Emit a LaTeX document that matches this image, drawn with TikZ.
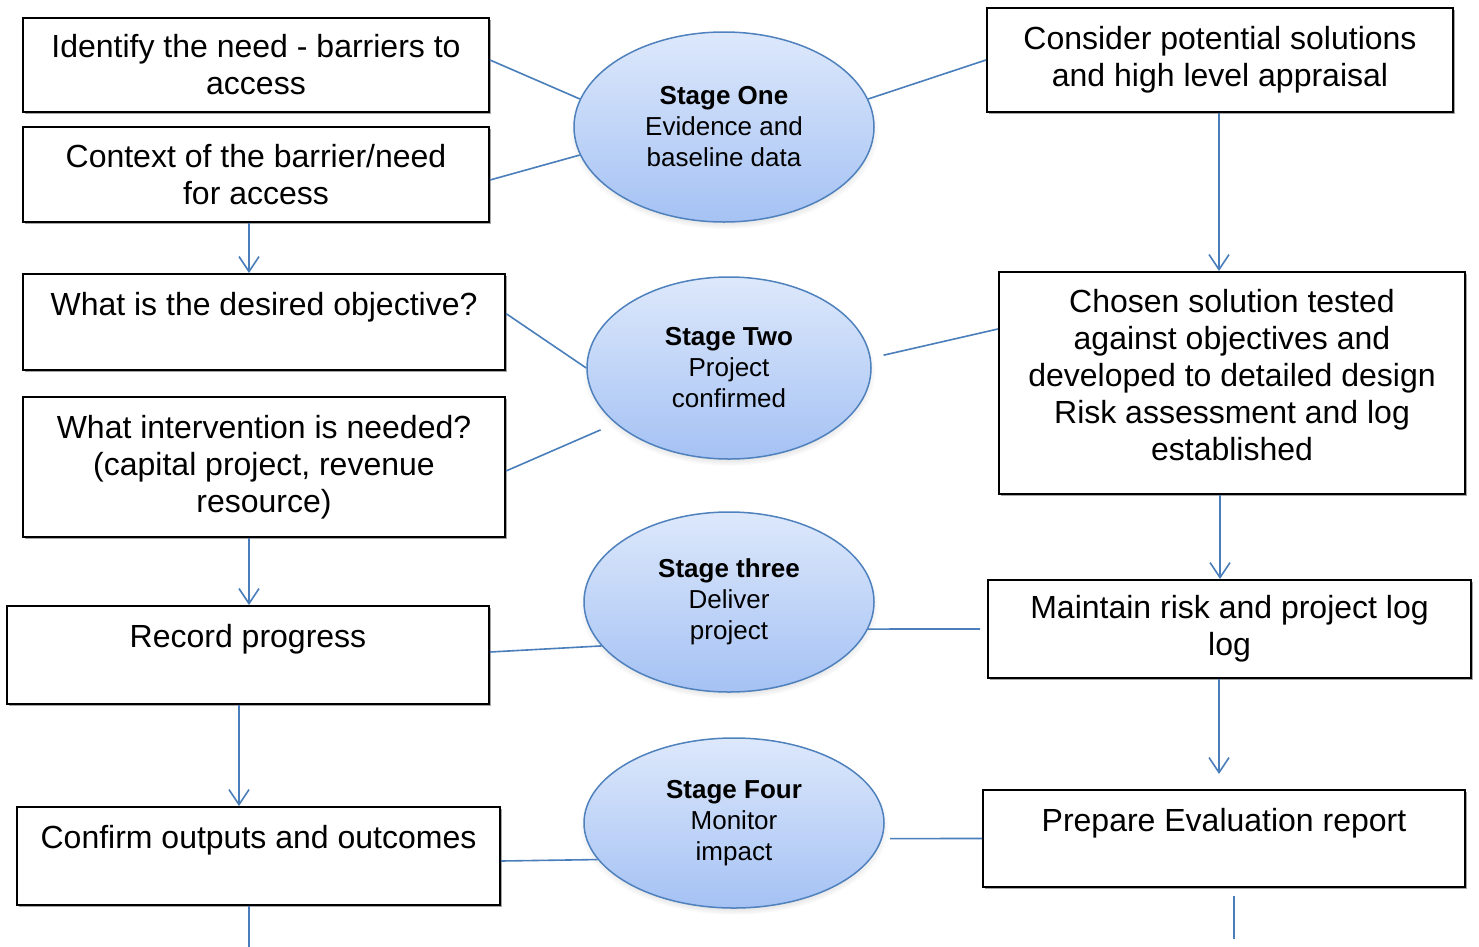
\documentclass[tikz,border=0pt]{standalone}
\usepackage{fontspec}
\setmainfont{Liberation Sans}
\usepackage{tikz}
\usetikzlibrary{shapes.geometric}
\usetikzlibrary{shadows}
\usetikzlibrary{arrows.meta}

\definecolor{linkblue}{HTML}{4A7EBB}
\definecolor{rimblue}{HTML}{4F81BD}
\definecolor{toplight}{HTML}{DDE8FB}
\definecolor{bottomblue}{HTML}{A5C2F4}

\begin{document}
\begin{tikzpicture}[x=1pt,y=-1pt,
  box/.style={draw=black,line width=2pt,fill=white,align=center,inner sep=0pt,
    font=\fontsize{32}{37}\selectfont,
    drop shadow={shadow xshift=1.5pt,shadow yshift=-1.5pt,fill=gray!70,opacity=1}},
  toptext/.style={text height=41pt,text depth=#1},
  stage/.style={ellipse,draw=rimblue,line width=1.5pt,top color=toplight,bottom color=bottomblue,
    align=center,inner sep=0pt,font=\fontsize{26}{31}\selectfont,
    circular drop shadow={shadow xshift=0pt,shadow yshift=-4pt,shadow scale=1.03,opacity=0.4}},
  link/.style={draw=linkblue,line width=1.6pt},
  flow/.style={link,-{Straight Barb[length=15pt,width=20pt]}}]

\useasboundingbox (0,0) rectangle (1479,946);

% left column
\node[box,minimum width=466pt,minimum height=94pt] (need) at (256,65) {Identify the need - barriers to\\access};
\node[box,minimum width=466pt,minimum height=95pt] (ctx) at (256,174.5) {Context of the barrier/need\\for access};
\node[box,minimum width=482pt,toptext=55pt] (goal) at (264,322) {What is the desired objective?};
\node[box,minimum width=482pt,minimum height=140pt] (act) at (264,467) {What intervention is needed?\\(capital project, revenue\\resource)};
\node[box,minimum width=482pt,toptext=57pt] (rec) at (248,655) {Record progress};
\node[box,minimum width=483pt,toptext=57pt] (out) at (258.5,856) {Confirm outputs and outcomes};

% right column
\node[box,minimum width=466pt,minimum height=104pt] (opt) at (1220,60) {Consider potential solutions\\and high level appraisal};
\node[box,minimum width=466pt,text height=188pt,text depth=34pt] (sol) at (1232,383) {Chosen solution tested\\against objectives and\\developed to detailed design\\Risk assessment and log\\established};
\node[box,minimum width=483pt,minimum height=98pt] (risk) at (1229.5,629) {Maintain risk and project log\\log};
\node[box,minimum width=482pt,toptext=56pt] (rep) at (1224,838.5) {Prepare Evaluation report};

% stages
\node[stage,minimum width=300pt,minimum height=190pt] (s1) at (724,127) {\textbf{Stage One}\\Evidence and\\baseline data};
\node[stage,minimum width=284pt,minimum height=182pt] (s2) at (729,368) {\textbf{Stage Two}\\Project\\confirmed};
\node[stage,minimum width=290pt,minimum height=180pt] (s3) at (729,602) {\textbf{Stage three}\\Deliver\\project};
\node[stage,minimum width=300pt,minimum height=170pt] (s4) at (734,823) {\textbf{Stage Four}\\Monitor\\impact};

\draw[link] ([yshift=5pt]need.east) -- (s1.169);
\draw[link] ([yshift=-5.5pt]ctx.east) -- (s1.191);
\draw[link] (opt.west) -- (s1.11);
\draw[link] (goal.2) -- (s2.west);
\draw[link,shorten >=16pt] ([yshift=-4pt]act.east) -- (s2.206);
\draw[link,shorten <=13pt] (s2.4) -- (sol.167);
\draw[link] ([yshift=3pt]rec.east) -- (s3.199);
\draw[link,shorten >=7pt] (s3.349) -- (risk.west);
\draw[link] ([yshift=-5pt]out.east) -- (s4.195);
\draw[link,shorten <=8pt] (s4.354) -- (rep.west);

\draw[flow] ([xshift=-7pt]ctx.south) -- ([xshift=-15pt]goal.north);
\draw[flow] ([xshift=-15pt]act.south) -- ([xshift=1pt]rec.north);
\draw[flow] ([xshift=-9pt]rec.south) -- ([xshift=-19.5pt]out.north);
\draw[link] ([xshift=-9.5pt]out.south) -- ++(0,41);
\draw[flow] ([xshift=-1pt]opt.south) -- ([xshift=-13pt]sol.north);
\draw[flow] ([xshift=-12pt]sol.south) -- ([xshift=-9.5pt]risk.north);
\draw[flow,shorten >=15pt] ([xshift=-10.5pt]risk.south) -- ([xshift=-5pt]rep.north);
\draw[link,shorten <=8pt] ([xshift=10pt]rep.south) -- ++(0,51);
\end{tikzpicture}
\end{document}
